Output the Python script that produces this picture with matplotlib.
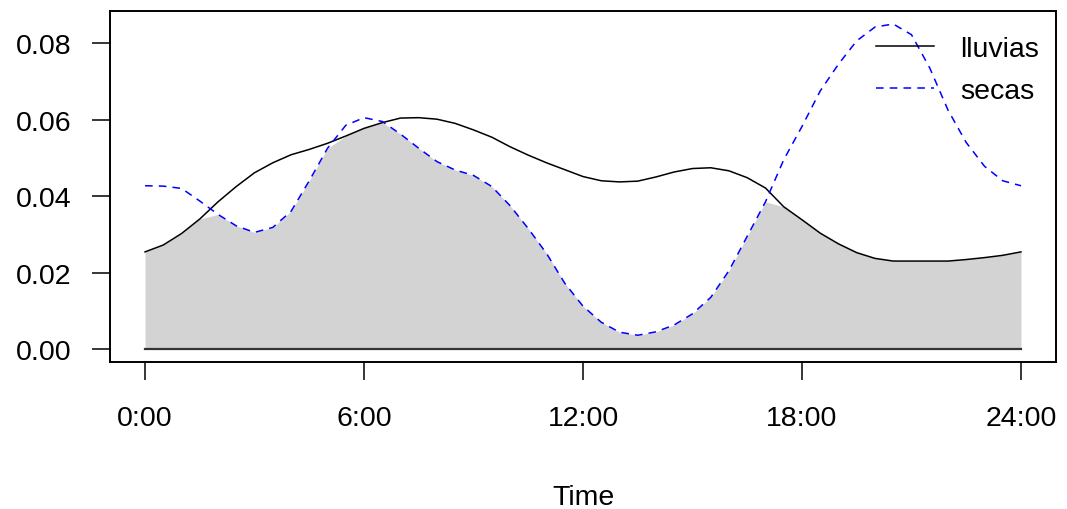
import numpy as np
import matplotlib
matplotlib.use("Agg")
import matplotlib.pyplot as plt

plt.rcParams['font.family'] = ['Liberation Sans', 'DejaVu Sans']

hours = np.arange(0, 24.01, 0.5)
lluvias = [0.0254, 0.0272, 0.0302, 0.0340, 0.0385, 0.0425, 0.0461, 0.0487,
           0.0508, 0.0522, 0.0538, 0.0557, 0.0577, 0.0592, 0.0604, 0.0605,
           0.0601, 0.0590, 0.0573, 0.0554, 0.0529, 0.0507, 0.0487, 0.0469,
           0.0451, 0.0440, 0.0437, 0.0439, 0.0450, 0.0463, 0.0472, 0.0474,
           0.0466, 0.0448, 0.0421, 0.0372, 0.0338, 0.0303, 0.0275, 0.0252,
           0.0237, 0.0230, 0.0230, 0.0230, 0.0230, 0.0234, 0.0239, 0.0245,
           0.0254]
secas = [0.0427, 0.0426, 0.0420, 0.0387, 0.0352, 0.0322, 0.0305, 0.0318,
         0.0360, 0.0440, 0.0525, 0.0585, 0.0605, 0.0595, 0.0562, 0.0525,
         0.0490, 0.0468, 0.0454, 0.0425, 0.0375, 0.0315, 0.0250, 0.0172,
         0.0112, 0.0070, 0.0044, 0.0036, 0.0045, 0.0063, 0.0092, 0.0135,
         0.0205, 0.0295, 0.0385, 0.0495, 0.0582, 0.0675, 0.0745, 0.0806,
         0.0842, 0.0850, 0.0822, 0.0735, 0.0625, 0.0540, 0.0478, 0.0440,
         0.0427]
xticks = [0, 6, 12, 18, 24]
xtick_labels = ["0:00", "6:00", "12:00", "18:00", "24:00"]
yticks = [0.00, 0.02, 0.04, 0.06, 0.08]
series_names = ["lluvias", "secas"]

lluvias = np.array(lluvias)
secas = np.array(secas)

FS = 20.5

fig = plt.figure(figsize=(10.67, 5.10), dpi=100)
ax = fig.add_axes([0.1031, 0.2882, 0.8866, 0.6883])

overlap = np.minimum(lluvias, secas)
ax.fill_between(hours, 0, overlap, color='#D3D3D3', lw=0, zorder=1)
ax.plot([hours[0], hours[-1]], [0, 0], color='#333333', lw=1.6, zorder=2)
l1, = ax.plot(hours, lluvias, color='black', lw=1.1, zorder=3)
l2, = ax.plot(hours, secas, color='blue', lw=1.1, dashes=(5, 4), zorder=3)

ax.set_xlim(-0.96, 24.96)
ax.set_ylim(-0.0034, 0.0884)
ax.set_xticks(xticks)
ax.set_xticklabels(xtick_labels)
ax.set_yticks(yticks)
ax.set_yticklabels([f"{v:.2f}" for v in yticks])

for s in ax.spines.values():
    s.set_linewidth(1.4)
ax.tick_params(axis='both', direction='out', length=13, width=1.1,
               labelsize=FS, colors='black')
ax.tick_params(axis='x', pad=18)
ax.tick_params(axis='y', pad=15)

ax.set_xlabel("Time", fontsize=FS, labelpad=38)

leg = ax.legend([l1, l2], series_names, loc='upper right', frameon=False,
                fontsize=FS, handlelength=2.05, handletextpad=0.9,
                labelspacing=0.55, borderaxespad=0.0, borderpad=0.4,
                bbox_to_anchor=(0.994, 0.96))

fig.savefig("out.png", dpi=100)
